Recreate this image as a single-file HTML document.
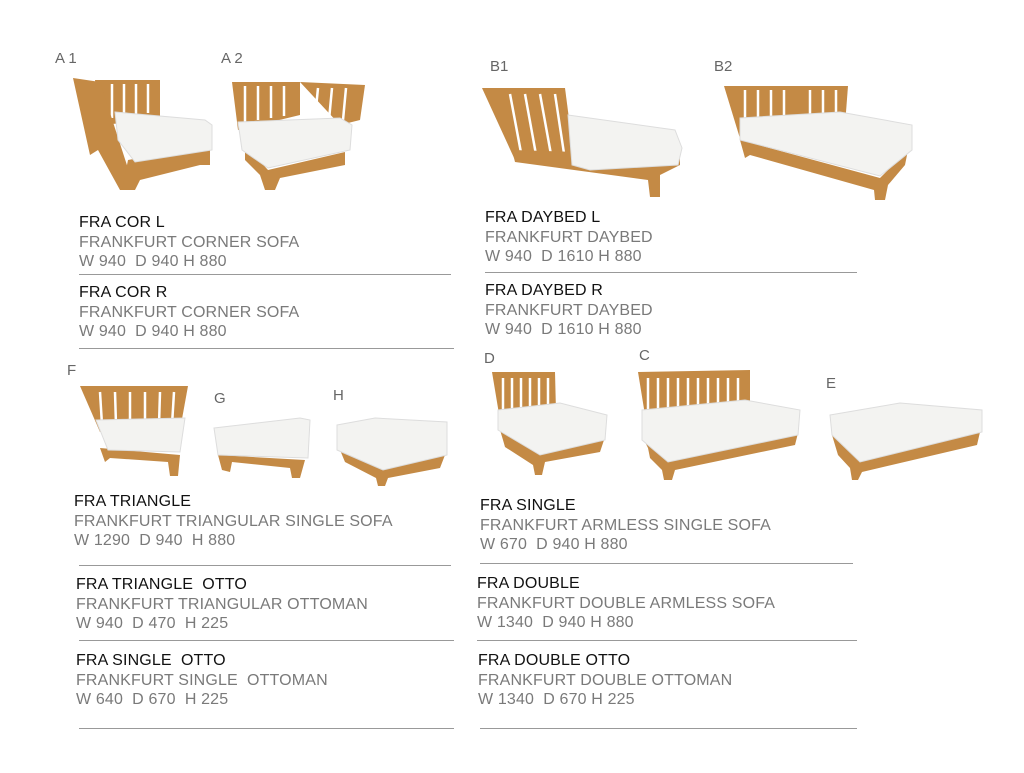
<!DOCTYPE html>
<html><head><meta charset="utf-8"><style>
body{margin:0;background:#fff;width:1024px;height:773px;overflow:hidden;position:relative;font-family:"Liberation Sans",sans-serif}
.t{position:absolute;font-size:16px;letter-spacing:0.15px;line-height:19.5px;color:#7a7a7a;white-space:pre}
.t b{font-weight:normal;color:#111;display:block}
.l{position:absolute;height:1px;background:#999}
.lb{position:absolute;font-size:15px;color:#666}
svg{position:absolute;left:0;top:0}
.w{fill:#c48a45}.c{fill:#f3f3f1;stroke:#ddd;stroke-width:1}.s{stroke:#fff;stroke-width:2.5}
</style></head><body>
<svg width="1024" height="773">
<!-- A1 -->
<polygon class="w" points="95,80 160,80 160,120 100,125"/>
<g class="s"><line x1="112" y1="84" x2="112" y2="118"/><line x1="124" y1="84" x2="124" y2="116"/><line x1="136" y1="84" x2="136" y2="114"/><line x1="148" y1="84" x2="148" y2="113"/></g>
<polygon class="w" points="73,78 100,82 135,190 120,190 98,150 90,155"/>
<polygon class="w" points="128,160 210,145 210,165 200,165 140,180 135,190 122,190"/>
<polygon class="c" points="115,112 205,120 212,125 212,150 135,162 118,140"/>
<!-- A2 -->
<polygon class="w" points="232,82 300,82 300,115 238,130"/>
<polygon class="w" points="300,82 365,85 360,120 340,125"/>
<g class="s"><line x1="245" y1="86" x2="245" y2="122"/><line x1="258" y1="86" x2="258" y2="120"/><line x1="271" y1="86" x2="271" y2="118"/><line x1="284" y1="86" x2="284" y2="116"/><line x1="318" y1="88" x2="315" y2="118"/><line x1="332" y1="88" x2="329" y2="120"/><line x1="346" y1="88" x2="343" y2="120"/></g>
<polygon class="w" points="245,145 268,170 345,152 345,165 280,178 275,190 265,190 260,175 245,160"/>
<polygon class="c" points="238,122 340,118 352,125 350,150 268,168 242,150"/>
<!-- B1 -->
<polygon class="w" points="482,88 565,88 575,165 515,160"/>
<g class="s"><line x1="510" y1="94" x2="522" y2="158"/><line x1="525" y1="94" x2="537" y2="160"/><line x1="540" y1="94" x2="552" y2="160"/><line x1="555" y1="94" x2="565" y2="160"/></g>
<polygon class="w" points="512,150 680,155 680,165 660,175 660,197 650,197 648,180 515,162"/>
<polygon class="c" points="568,115 675,130 682,148 678,165 590,170 572,165"/>
<!-- B2 -->
<polygon class="w" points="724,86 848,86 845,125 742,145"/>
<g class="s"><line x1="745" y1="90" x2="745" y2="130"/><line x1="758" y1="90" x2="758" y2="126"/><line x1="771" y1="90" x2="771" y2="122"/><line x1="784" y1="90" x2="784" y2="118"/><line x1="810" y1="90" x2="810" y2="115"/><line x1="823" y1="90" x2="823" y2="115"/><line x1="836" y1="90" x2="836" y2="115"/></g>
<polygon class="w" points="740,140 880,178 908,150 905,165 888,185 885,200 875,200 874,190 750,155 745,158"/>
<polygon class="c" points="740,118 840,112 912,125 912,150 880,176 740,140"/>
<!-- F -->
<polygon class="w" points="80,386 188,386 180,430 100,432"/>
<g class="s"><line x1="100" y1="392" x2="102" y2="425"/><line x1="115" y1="392" x2="116" y2="425"/><line x1="130" y1="392" x2="130" y2="425"/><line x1="145" y1="392" x2="145" y2="425"/><line x1="160" y1="392" x2="159" y2="425"/><line x1="174" y1="392" x2="172" y2="425"/></g>
<polygon class="w" points="100,448 180,455 178,476 170,476 168,462 110,458 105,462"/>
<polygon class="c" points="96,420 185,418 180,452 108,450"/>
<!-- G -->
<polygon class="w" points="218,455 305,460 300,478 292,478 290,468 232,462 230,472 222,470"/>
<polygon class="c" points="214,428 300,418 310,420 308,458 218,455"/>
<!-- H -->
<polygon class="w" points="340,450 383,470 445,455 440,468 388,478 385,486 378,486 376,478 345,462"/>
<polygon class="c" points="337,425 375,418 447,422 447,455 383,470 337,450"/>
<!-- D -->
<polygon class="w" points="492,372 555,372 556,412 500,420"/>
<g class="s"><line x1="503" y1="378" x2="503" y2="412"/><line x1="512" y1="378" x2="512" y2="412"/><line x1="521" y1="378" x2="521" y2="410"/><line x1="530" y1="378" x2="530" y2="408"/><line x1="539" y1="378" x2="539" y2="406"/><line x1="548" y1="378" x2="548" y2="404"/></g>
<polygon class="w" points="500,430 540,455 604,440 600,452 545,462 542,475 535,475 533,465 505,447 503,440"/>
<polygon class="c" points="498,410 560,403 607,415 605,440 540,455 498,430"/>
<!-- C -->
<polygon class="w" points="638,372 750,370 750,405 645,415"/>
<g class="s"><line x1="648" y1="378" x2="648" y2="410"/><line x1="658" y1="378" x2="658" y2="410"/><line x1="668" y1="378" x2="668" y2="408"/><line x1="678" y1="378" x2="678" y2="408"/><line x1="688" y1="378" x2="688" y2="406"/><line x1="698" y1="378" x2="698" y2="406"/><line x1="708" y1="378" x2="708" y2="404"/><line x1="718" y1="378" x2="718" y2="404"/><line x1="728" y1="378" x2="728" y2="402"/><line x1="738" y1="378" x2="738" y2="402"/></g>
<polygon class="w" points="644,440 668,462 798,433 795,445 675,470 672,480 664,480 662,470 650,458 648,448"/>
<polygon class="c" points="642,410 745,400 800,410 798,435 668,462 642,440"/>
<!-- E -->
<polygon class="w" points="832,435 860,462 980,432 977,445 862,472 858,480 852,480 850,468 838,455"/>
<polygon class="c" points="830,415 900,403 982,410 982,432 860,462 832,435"/>
</svg>

<div class="lb" style="left:55px;top:50px">A 1</div>
<div class="lb" style="left:221px;top:50px">A 2</div>
<div class="lb" style="left:490px;top:58px">B1</div>
<div class="lb" style="left:714px;top:58px">B2</div>
<div class="lb" style="left:67px;top:362px">F</div>
<div class="lb" style="left:214px;top:390px">G</div>
<div class="lb" style="left:333px;top:387px">H</div>
<div class="lb" style="left:484px;top:350px">D</div>
<div class="lb" style="left:639px;top:347px">C</div>
<div class="lb" style="left:826px;top:375px">E</div>

<div class="t" style="left:79px;top:213px"><b>FRA COR L</b>FRANKFURT CORNER SOFA
W 940  D 940 H 880</div>
<div class="l" style="left:79px;top:274px;width:372px"></div>
<div class="t" style="left:79px;top:283px"><b>FRA COR R</b>FRANKFURT CORNER SOFA
W 940  D 940 H 880</div>
<div class="l" style="left:79px;top:348px;width:375px"></div>
<div class="t" style="left:74px;top:492px"><b>FRA TRIANGLE</b>FRANKFURT TRIANGULAR SINGLE SOFA
W 1290  D 940  H 880</div>
<div class="l" style="left:79px;top:565px;width:372px"></div>
<div class="t" style="left:76px;top:575px"><b>FRA TRIANGLE  OTTO</b>FRANKFURT TRIANGULAR OTTOMAN
W 940  D 470  H 225</div>
<div class="l" style="left:79px;top:640px;width:375px"></div>
<div class="t" style="left:76px;top:651px"><b>FRA SINGLE  OTTO</b>FRANKFURT SINGLE  OTTOMAN
W 640  D 670  H 225</div>
<div class="l" style="left:79px;top:728px;width:375px"></div>

<div class="t" style="left:485px;top:208px"><b>FRA DAYBED L</b>FRANKFURT DAYBED
W 940  D 1610 H 880</div>
<div class="l" style="left:485px;top:272px;width:372px"></div>
<div class="t" style="left:485px;top:281px"><b>FRA DAYBED R</b>FRANKFURT DAYBED
W 940  D 1610 H 880</div>
<div class="t" style="left:480px;top:496px"><b>FRA SINGLE</b>FRANKFURT ARMLESS SINGLE SOFA
W 670  D 940 H 880</div>
<div class="l" style="left:480px;top:563px;width:373px"></div>
<div class="t" style="left:477px;top:574px"><b>FRA DOUBLE</b>FRANKFURT DOUBLE ARMLESS SOFA
W 1340  D 940 H 880</div>
<div class="l" style="left:477px;top:640px;width:380px"></div>
<div class="t" style="left:478px;top:651px"><b>FRA DOUBLE OTTO</b>FRANKFURT DOUBLE OTTOMAN
W 1340  D 670 H 225</div>
<div class="l" style="left:480px;top:728px;width:377px"></div>
</body></html>
